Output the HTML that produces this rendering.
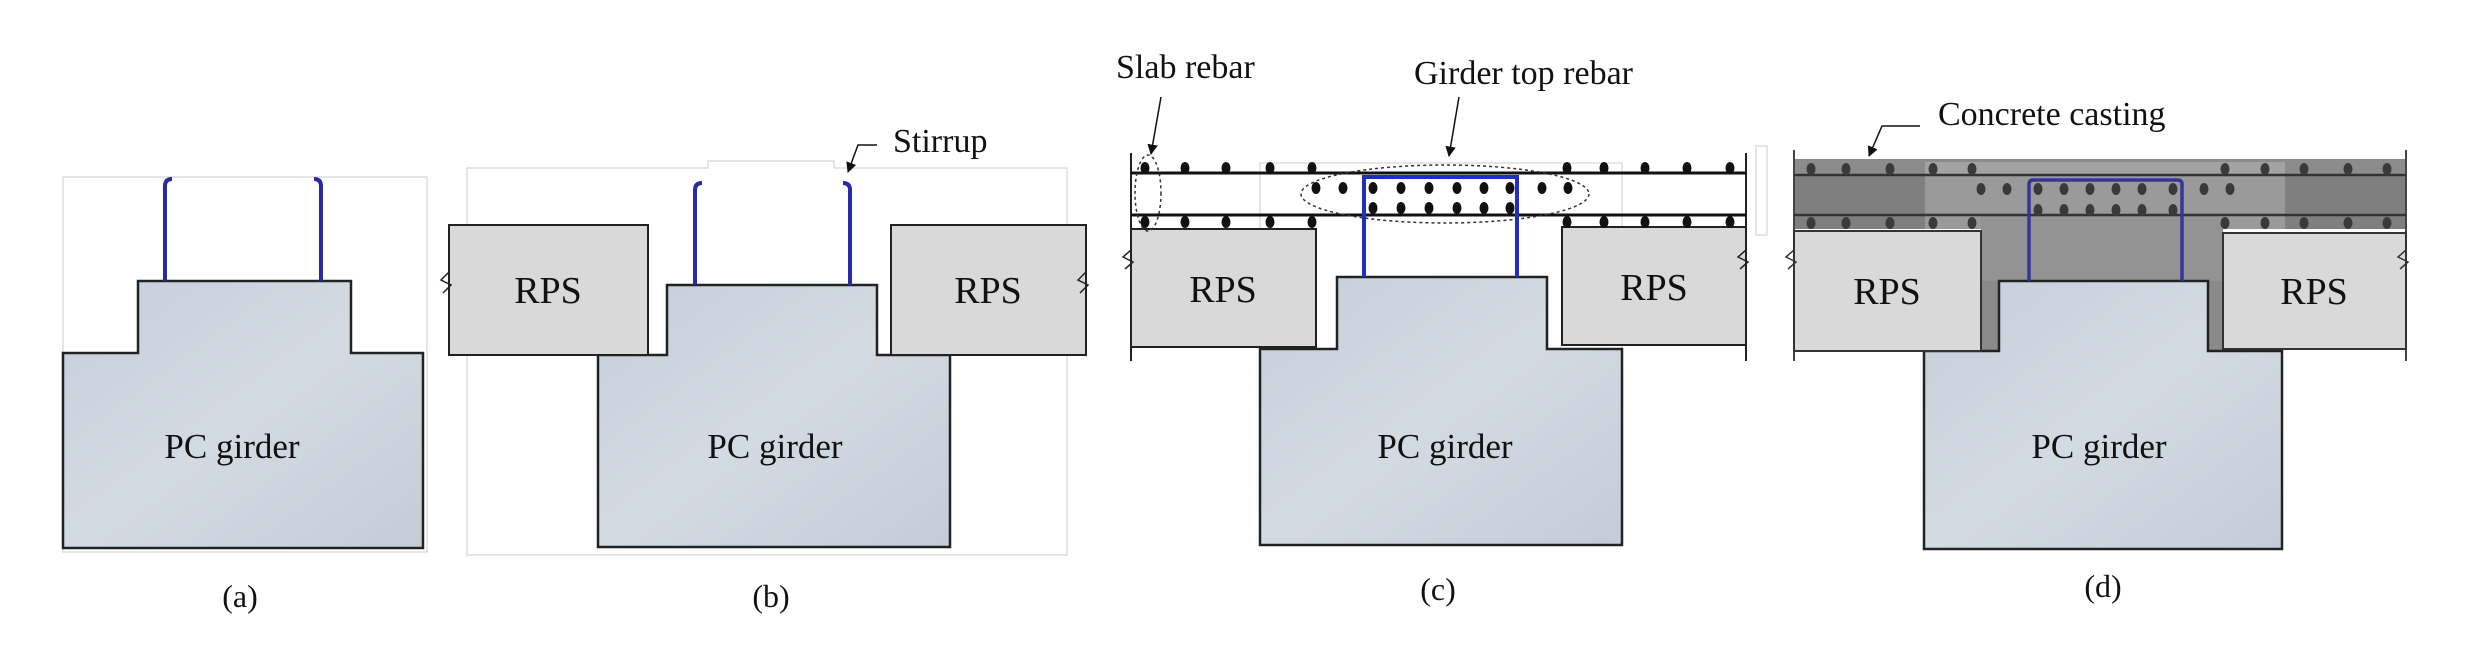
<!DOCTYPE html>
<html><head><meta charset="utf-8"><style>
html,body{margin:0;padding:0;background:#fff;}
svg{display:block;}
text{font-family:"Liberation Serif",serif;fill:#111;}
</style></head><body>
<svg width="2468" height="647" viewBox="0 0 2468 647" xmlns="http://www.w3.org/2000/svg">
<defs>
<linearGradient id="g" x1="0" y1="0" x2="1" y2="1">
<stop offset="0" stop-color="#c6ced8"/><stop offset="0.5" stop-color="#d3dae2"/><stop offset="1" stop-color="#c4ccd6"/>
</linearGradient>
<marker id="ar" viewBox="0 0 10 10" refX="9" refY="5" markerWidth="7" markerHeight="7" orient="auto"><path d="M0,0 L10,5 L0,10 z" fill="#111"/></marker>
</defs>

<!-- (a) -->
<rect x="63" y="177" width="364" height="375" fill="none" stroke="#ccc" stroke-width="1"/>
<path d="M138,281 H351 V353 H423 V548 H63 V353 H138 Z" fill="url(#g)" stroke="#222" stroke-width="2.5"/>
<path d="M165,281 V186 Q165,179 172,179" fill="none" stroke="#2a2aa8" stroke-width="4"/>
<path d="M321,281 V186 Q321,179 314,179" fill="none" stroke="#2a2aa8" stroke-width="4"/>
<text x="232" y="458" font-size="35" text-anchor="middle">PC girder</text>
<text x="240" y="607" font-size="32" text-anchor="middle">(a)</text>

<!-- (b) -->
<path d="M467,168 H708 V161 H834 V168 H1067 V555 H467 Z" fill="none" stroke="#ccc" stroke-width="1"/>
<path d="M667,285 H877 V355 H950 V547 H598 V355 H667 Z" fill="url(#g)" stroke="#222" stroke-width="2.5"/>
<rect x="449" y="225" width="199" height="130" fill="#d9d9d9" stroke="#222" stroke-width="2"/>
<rect x="891" y="225" width="195" height="130" fill="#d9d9d9" stroke="#222" stroke-width="2"/>
<path d="M449,272 l-8,8 l10,5 l-8,8" fill="none" stroke="#222" stroke-width="1.5"/>
<path d="M1086,272 l-8,8 l10,5 l-8,8" fill="none" stroke="#222" stroke-width="1.5"/>
<path d="M695,285 V190 Q695,183 702,183" fill="none" stroke="#2a2aa8" stroke-width="4"/>
<path d="M850,285 V190 Q850,183 843,183" fill="none" stroke="#2a2aa8" stroke-width="4"/>
<path d="M877,145 H858 L848,172" fill="none" stroke="#111" stroke-width="1.5" marker-end="url(#ar)"/>
<text x="893" y="152" font-size="34">Stirrup</text>
<text x="548" y="303" font-size="38" text-anchor="middle">RPS</text>
<text x="988" y="303" font-size="38" text-anchor="middle">RPS</text>
<text x="775" y="458" font-size="35" text-anchor="middle">PC girder</text>
<text x="771" y="607" font-size="32" text-anchor="middle">(b)</text>

<!-- (c) -->
<rect x="1260" y="163" width="362" height="382" fill="none" stroke="#ccc" stroke-width="1"/>
<path d="M1337,277 H1547 V349 H1622 V545 H1260 V349 H1337 Z" fill="url(#g)" stroke="#222" stroke-width="2.5"/>
<rect x="1131" y="229" width="185" height="118" fill="#d9d9d9" stroke="#222" stroke-width="2"/>
<rect x="1562" y="227" width="184" height="118" fill="#d9d9d9" stroke="#222" stroke-width="2"/>
<path d="M1131,250 l-8,7 l10,5 l-8,7" fill="none" stroke="#222" stroke-width="1.5"/>
<path d="M1746,250 l-8,7 l10,5 l-8,7" fill="none" stroke="#222" stroke-width="1.5"/>
<line x1="1131" y1="153" x2="1131" y2="361" stroke="#222" stroke-width="2"/>
<line x1="1746" y1="153" x2="1746" y2="361" stroke="#222" stroke-width="2"/>
<line x1="1131" y1="173" x2="1746" y2="173" stroke="#111" stroke-width="3"/>
<line x1="1131" y1="215" x2="1746" y2="215" stroke="#111" stroke-width="3"/>
<path d="M1364,277 V177 H1517 V277" fill="none" stroke="#1f2fc0" stroke-width="4"/>
<g fill="#111">
<ellipse cx="1145" cy="168" rx="4.5" ry="6"/><ellipse cx="1185" cy="168" rx="4.5" ry="6"/><ellipse cx="1226" cy="168" rx="4.5" ry="6"/><ellipse cx="1270" cy="168" rx="4.5" ry="6"/><ellipse cx="1312" cy="168" rx="4.5" ry="6"/>
<ellipse cx="1567" cy="168" rx="4.5" ry="6"/><ellipse cx="1604" cy="168" rx="4.5" ry="6"/><ellipse cx="1645" cy="168" rx="4.5" ry="6"/><ellipse cx="1687" cy="168" rx="4.5" ry="6"/><ellipse cx="1730" cy="168" rx="4.5" ry="6"/>
<ellipse cx="1145" cy="222" rx="4.5" ry="6"/><ellipse cx="1185" cy="222" rx="4.5" ry="6"/><ellipse cx="1226" cy="222" rx="4.5" ry="6"/><ellipse cx="1270" cy="222" rx="4.5" ry="6"/><ellipse cx="1312" cy="222" rx="4.5" ry="6"/>
<ellipse cx="1567" cy="222" rx="4.5" ry="6"/><ellipse cx="1604" cy="222" rx="4.5" ry="6"/><ellipse cx="1645" cy="222" rx="4.5" ry="6"/><ellipse cx="1687" cy="222" rx="4.5" ry="6"/><ellipse cx="1730" cy="222" rx="4.5" ry="6"/>
<ellipse cx="1316" cy="188" rx="4.5" ry="6"/><ellipse cx="1343" cy="188" rx="4.5" ry="6"/><ellipse cx="1373" cy="188" rx="4.5" ry="6"/><ellipse cx="1401" cy="188" rx="4.5" ry="6"/><ellipse cx="1429" cy="188" rx="4.5" ry="6"/><ellipse cx="1457" cy="188" rx="4.5" ry="6"/><ellipse cx="1484" cy="188" rx="4.5" ry="6"/><ellipse cx="1510" cy="188" rx="4.5" ry="6"/><ellipse cx="1542" cy="188" rx="4.5" ry="6"/><ellipse cx="1568" cy="188" rx="4.5" ry="6"/>
<ellipse cx="1373" cy="208" rx="4.5" ry="6"/><ellipse cx="1401" cy="208" rx="4.5" ry="6"/><ellipse cx="1429" cy="208" rx="4.5" ry="6"/><ellipse cx="1457" cy="208" rx="4.5" ry="6"/><ellipse cx="1484" cy="208" rx="4.5" ry="6"/><ellipse cx="1510" cy="208" rx="4.5" ry="6"/>
</g>
<ellipse cx="1445" cy="194" rx="144" ry="29" fill="none" stroke="#333" stroke-width="1.5" stroke-dasharray="3,3"/>
<ellipse cx="1148" cy="193" rx="13" ry="38" fill="none" stroke="#333" stroke-width="1.5" stroke-dasharray="3,3"/>
<line x1="1161" y1="97" x2="1151" y2="154" stroke="#111" stroke-width="1.5" marker-end="url(#ar)"/>
<line x1="1459" y1="97" x2="1449" y2="156" stroke="#111" stroke-width="1.5" marker-end="url(#ar)"/>
<text x="1116" y="78" font-size="34">Slab rebar</text>
<text x="1414" y="84" font-size="34">Girder top rebar</text>
<text x="1223" y="302" font-size="38" text-anchor="middle">RPS</text>
<text x="1654" y="300" font-size="38" text-anchor="middle">RPS</text>
<text x="1445" y="458" font-size="35" text-anchor="middle">PC girder</text>
<text x="1438" y="600" font-size="32" text-anchor="middle">(c)</text>
<rect x="1756" y="146" width="11" height="89" fill="none" stroke="#ddd" stroke-width="1.5"/>

<!-- (d) -->
<rect x="1794" y="159" width="612" height="70" fill="#7f7f7f"/>
<rect x="1981" y="229" width="242" height="122" fill="#8a8a8a"/>
<rect x="1925" y="175" width="360" height="54" fill="#9a9a9a"/>
<rect x="1981" y="215" width="242" height="66" fill="#939393"/>
<rect x="1794" y="159" width="612" height="16" fill="#8c8c8c"/>
<rect x="1925" y="162" width="360" height="12" fill="#a3a3a3"/>
<line x1="1794" y1="150" x2="1794" y2="361" stroke="#444" stroke-width="2"/>
<line x1="2406" y1="150" x2="2406" y2="361" stroke="#444" stroke-width="2"/>
<line x1="1794" y1="175" x2="2406" y2="175" stroke="#333" stroke-width="2.5"/>
<line x1="1794" y1="215" x2="2406" y2="215" stroke="#333" stroke-width="2.5"/>
<path d="M1999,281 H2208 V351 H2282 V549 H1924 V351 H1999 Z" fill="url(#g)" stroke="#222" stroke-width="2.5"/>
<rect x="1794" y="231" width="187" height="120" fill="#d9d9d9" stroke="#333" stroke-width="2"/>
<rect x="2223" y="233" width="183" height="116" fill="#d9d9d9" stroke="#333" stroke-width="2"/>
<path d="M1794,250 l-8,7 l10,5 l-8,7" fill="none" stroke="#333" stroke-width="1.5"/>
<path d="M2406,250 l-8,7 l10,5 l-8,7" fill="none" stroke="#333" stroke-width="1.5"/>
<path d="M2029,281 V184 Q2029,180 2034,180 H2177 Q2182,180 2182,184 V281" fill="none" stroke="#35359a" stroke-width="3.5"/>
<g fill="#3a3a3a">
<ellipse cx="1811" cy="169" rx="4.5" ry="6"/><ellipse cx="1846" cy="169" rx="4.5" ry="6"/><ellipse cx="1890" cy="169" rx="4.5" ry="6"/><ellipse cx="1933" cy="169" rx="4.5" ry="6"/><ellipse cx="1972" cy="169" rx="4.5" ry="6"/>
<ellipse cx="2225" cy="169" rx="4.5" ry="6"/><ellipse cx="2265" cy="169" rx="4.5" ry="6"/><ellipse cx="2304" cy="169" rx="4.5" ry="6"/><ellipse cx="2348" cy="169" rx="4.5" ry="6"/><ellipse cx="2387" cy="169" rx="4.5" ry="6"/>
<ellipse cx="1811" cy="223" rx="4.5" ry="6"/><ellipse cx="1846" cy="223" rx="4.5" ry="6"/><ellipse cx="1890" cy="223" rx="4.5" ry="6"/><ellipse cx="1933" cy="223" rx="4.5" ry="6"/><ellipse cx="1972" cy="223" rx="4.5" ry="6"/>
<ellipse cx="2225" cy="223" rx="4.5" ry="6"/><ellipse cx="2265" cy="223" rx="4.5" ry="6"/><ellipse cx="2304" cy="223" rx="4.5" ry="6"/><ellipse cx="2348" cy="223" rx="4.5" ry="6"/><ellipse cx="2387" cy="223" rx="4.5" ry="6"/>
<ellipse cx="1981" cy="189" rx="4.5" ry="6"/><ellipse cx="2007" cy="189" rx="4.5" ry="6"/><ellipse cx="2038" cy="189" rx="4.5" ry="6"/><ellipse cx="2064" cy="189" rx="4.5" ry="6"/><ellipse cx="2090" cy="189" rx="4.5" ry="6"/><ellipse cx="2116" cy="189" rx="4.5" ry="6"/><ellipse cx="2142" cy="189" rx="4.5" ry="6"/><ellipse cx="2173" cy="189" rx="4.5" ry="6"/><ellipse cx="2204" cy="189" rx="4.5" ry="6"/><ellipse cx="2230" cy="189" rx="4.5" ry="6"/>
<ellipse cx="2038" cy="210" rx="4.5" ry="6"/><ellipse cx="2064" cy="210" rx="4.5" ry="6"/><ellipse cx="2090" cy="210" rx="4.5" ry="6"/><ellipse cx="2116" cy="210" rx="4.5" ry="6"/><ellipse cx="2142" cy="210" rx="4.5" ry="6"/><ellipse cx="2173" cy="210" rx="4.5" ry="6"/>
</g>
<path d="M1920,126 H1882 L1869,156" fill="none" stroke="#111" stroke-width="1.5" marker-end="url(#ar)"/>
<text x="1938" y="125" font-size="34">Concrete casting</text>
<text x="1887" y="304" font-size="38" text-anchor="middle">RPS</text>
<text x="2314" y="304" font-size="38" text-anchor="middle">RPS</text>
<text x="2099" y="458" font-size="35" text-anchor="middle">PC girder</text>
<text x="2103" y="597" font-size="32" text-anchor="middle">(d)</text>
</svg>
</body></html>
